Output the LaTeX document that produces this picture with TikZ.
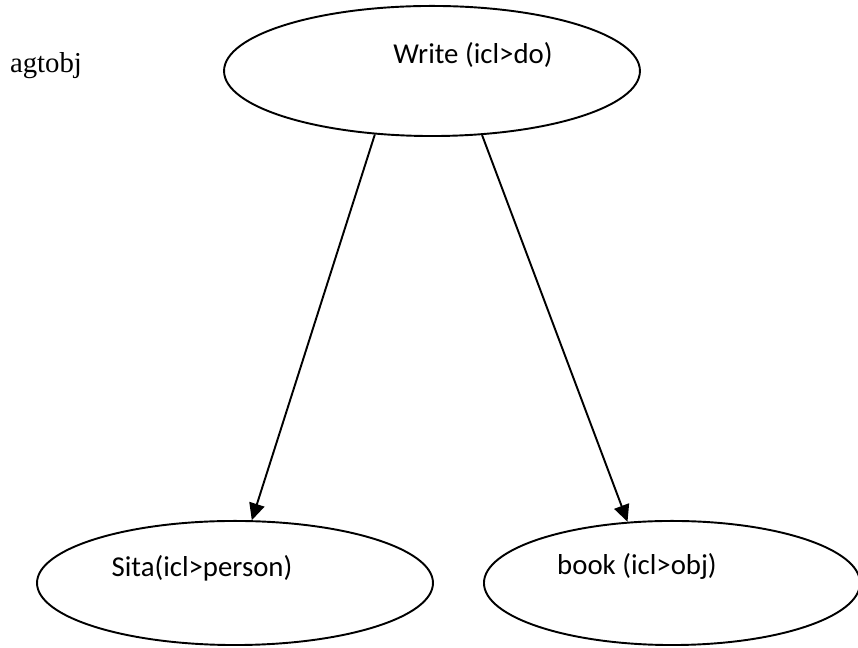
\documentclass[tikz,border=0pt]{standalone}
\usepackage{fontspec}
\setmainfont{Liberation Serif}
\newfontfamily\carlito{Carlito}
\usepackage{tikz}
\usetikzlibrary{shapes.geometric,arrows.meta}
\tikzset{every picture/.style={line width=0.8pt}}
\tikzset{
  concept/.style={draw,ellipse,inner sep=0pt,minimum height=51.7pt},
  uwlabel/.style={font=\carlito\fontsize{12}{14}\selectfont,inner sep=0pt},
  rel/.style={-{Triangle[length=7pt,width=6.5pt]}}
}

\begin{document}
\begin{tikzpicture}[x=0.41667pt,y=-0.41667pt]
\useasboundingbox (0,0) rectangle (858,648);
\node[font=\fontsize{12}{14}\selectfont,inner sep=0pt] (agtobj) at (46,66) {agtobj};
%
\node[concept,minimum width=173.3pt,minimum height=54.2pt] (write) at (432,71) {};
\node[uwlabel] (writelbl) at (473,55) {Write (icl>do)};
%
\node[concept,minimum width=165pt] (sita) at (235,583) {};
\node[uwlabel] (sitalbl) at (202,568) {Sita(icl>person)};
%
\node[concept,minimum width=156.7pt] (book) at (672,583) {};
\node[uwlabel] (booklbl) at (637,566) {book (icl>obj)};
%
\draw[rel] (write.228) -- (sita.75);
\draw[rel] (write.308) -- (book.126);
\end{tikzpicture}
\end{document}
